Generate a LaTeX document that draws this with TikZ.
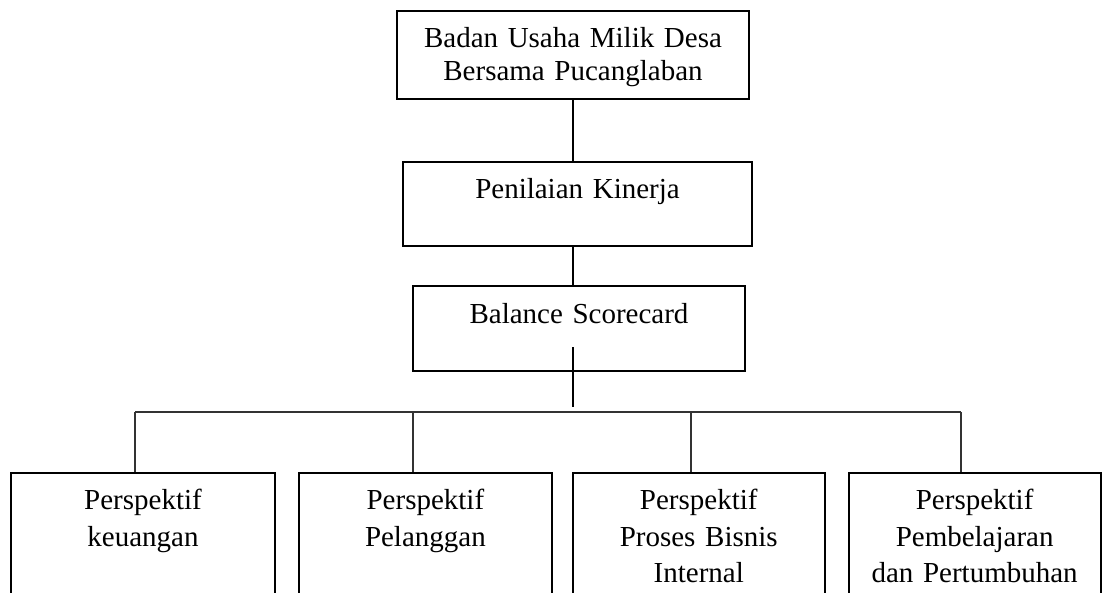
\documentclass[tikz,border=0pt]{standalone}
\usepackage{fontspec}
\setmainfont{Liberation Serif}
\usetikzlibrary{positioning}

\begin{document}
\begin{tikzpicture}[x=0.02cm, y=-0.02cm]
\tikzset{unit/.style={rectangle, draw=black, line width=1.1pt, inner sep=0pt, align=center,
  text height=0.74cm, font=\fontsize{16.5}{18.8}\selectfont},
 headbox/.style={unit, text width=7.04cm, text depth=1.02cm},
 midbox/.style={unit, text depth=0.95cm},
 perspbox/.style={unit, text depth=1.82cm, font=\fontsize{16.5}{20.6}\selectfont},
 link/.style={draw=black, line width=1pt},
 bus/.style={draw=black!80, line width=0.6pt}}
\useasboundingbox (0,0) rectangle (1106,592);

\node[headbox, anchor=north] (bumdes) at (573,10) {Badan Usaha Milik Desa\\Bersama Pucanglaban};
\node[midbox, text width=6.98cm, below=1.22cm of bumdes, xshift=0.09cm] (kinerja) {Penilaian Kinerja};
\node[midbox, text width=6.64cm, below=0.76cm of kinerja, xshift=0.03cm] (bsc) {Balance Scorecard};

\node[perspbox, text width=5.28cm, anchor=north] (p1) at (143,472) {Perspektif\\keuangan};
\node[perspbox, text width=5.06cm, right=0.44cm of p1] (p2) {Perspektif\\Pelanggan};
\node[perspbox, text width=5.04cm, right=0.38cm of p2] (p3) {Perspektif\\Proses Bisnis\\Internal};
\node[perspbox, text width=5.04cm, right=0.44cm of p3] (p4) {Perspektif\\Pembelajaran\\dan Pertumbuhan};

\coordinate (tail) at (573,347);
\coordinate (tailend) at (573,407);
\coordinate (d1) at (135,412);
\coordinate (d2) at (413,412);
\coordinate (d3) at (691,412);
\coordinate (d4) at (961,412);

\draw[link] (bumdes.south) -- (bumdes.south |- kinerja.north);
\draw[link] (bumdes.south |- kinerja.south) -- (bumdes.south |- bsc.north);
\draw[link] (tail) -- (tailend);
\draw[bus] (d1) -- (d4);
\draw[bus] (d1) -- (d1 |- p1.north);
\draw[bus] (d2) -- (d2 |- p2.north);
\draw[bus] (d3) -- (d3 |- p3.north);
\draw[bus] (d4) -- (d4 |- p4.north);
\end{tikzpicture}
\end{document}
